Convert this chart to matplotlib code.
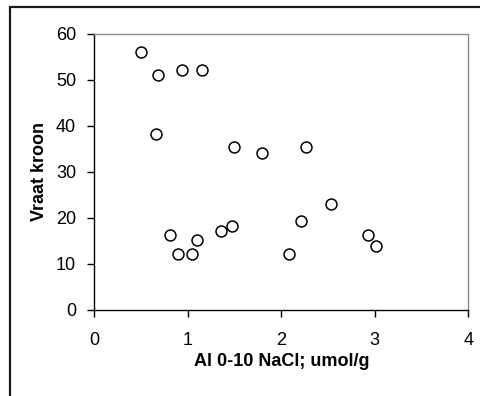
import matplotlib
matplotlib.use("Agg")
import matplotlib.pyplot as plt
from matplotlib.patches import Rectangle

al = [0.50, 0.685, 0.94, 1.155, 0.656, 1.497, 1.79, 2.26, 2.53, 2.21,
      2.93, 3.015, 2.08, 0.81, 0.89, 1.045, 1.095, 1.36, 1.476]
vraat = [56.1, 51.1, 52.2, 52.2, 38.3, 35.3, 34.2, 35.3, 22.9, 19.2,
         16.2, 13.9, 12.1, 16.2, 12.1, 12.1, 15.2, 17.2, 18.2]
xticks = [0, 1, 2, 3, 4]
yticks = [0, 10, 20, 30, 40, 50, 60]

plt.rcParams['font.family'] = ['Liberation Sans', 'DejaVu Sans']

W, H = 481, 396
fig = plt.figure(figsize=(W / 100, H / 100), dpi=100)
ax = fig.add_axes([94.3 / W, 1 - 309.7 / H, (468.3 - 94.3) / W, (309.7 - 34) / H])

ax.scatter(al, vraat, s=62, facecolors='white', edgecolors='black', linewidths=1.1, zorder=3, clip_on=False)
ax.set_xlim(0, 4)
ax.set_ylim(0, 60)
ax.set_xticks(xticks)
ax.set_yticks(yticks)
ax.tick_params(direction='out', length=5, width=1, labelsize=13, colors='black')
ax.tick_params(axis='y', pad=8)
ax.tick_params(axis='x', pad=11)
for s in ['left', 'bottom']:
    ax.spines[s].set_color('black')
    ax.spines[s].set_linewidth(1)
for s in ['top', 'right']:
    ax.spines[s].set_color('#8c8c8c')
    ax.spines[s].set_linewidth(1)

ax.set_xlabel('Al 0-10 NaCl; umol/g', fontsize=13, fontweight='bold', labelpad=3)
ax.set_ylabel('Vraat kroon', fontsize=13, fontweight='bold', labelpad=6)

fig.patches.append(Rectangle((9.5 / W, -0.05), 1.2, 1 - 6.5 / H + 0.05, transform=fig.transFigure,
                             fill=False, edgecolor='#1a1a1a', linewidth=1.6, clip_on=False))

fig.savefig('out.png', dpi=100)
